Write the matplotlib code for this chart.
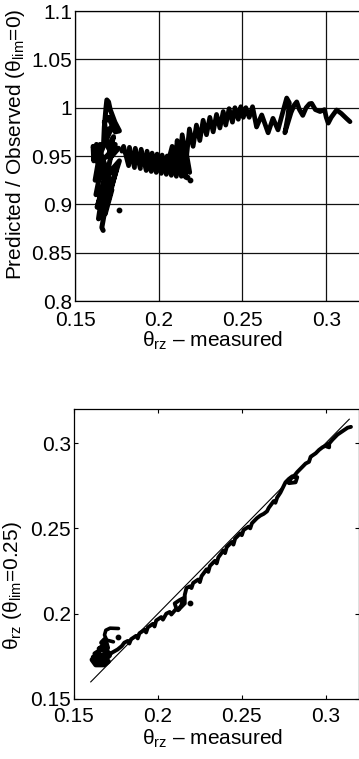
import numpy as np
import matplotlib
matplotlib.use("Agg")
import matplotlib.pyplot as plt

# ---- top panel: predicted / observed ratio vs measured theta_rz (traced) ----
left_x = [0.1668, 0.1660, 0.1690, 0.1640, 0.1675, 0.1632, 0.1700, 0.1680, 0.1720,
          0.1625, 0.1665, 0.1700, 0.1745, 0.1620, 0.1650, 0.1720, 0.1765, 0.1690,
          0.1720, 0.1640, 0.1608, 0.1612, 0.1628, 0.1638, 0.1650, 0.1645,
          0.1670, 0.1675, 0.1685, 0.1690, 0.1700, 0.1710, 0.1738, 0.1765, 0.1740,
          0.1700, 0.1675, 0.1690, 0.1720, 0.1680, 0.1700, 0.1730, 0.1700, 0.1740,
          0.1710, 0.1760]
left_y = [0.873, 0.876, 0.905, 0.885, 0.925, 0.897, 0.935, 0.890, 0.915,
          0.910, 0.945, 0.905, 0.935, 0.925, 0.955, 0.920, 0.945, 0.930,
          0.955, 0.942, 0.960, 0.945, 0.962, 0.946, 0.962, 0.950,
          0.960, 0.980, 1.000, 1.008, 1.006, 0.998, 0.985, 0.976, 0.975,
          0.990, 0.985, 0.968, 0.980, 0.975, 0.958, 0.970, 0.950, 0.962,
          0.948, 0.958]

mid_x = [0.1780, 0.1790, 0.1820, 0.1825, 0.1855, 0.1860, 0.1890, 0.1895, 0.1925, 0.1930,
         0.1955, 0.1960, 0.1985, 0.1990, 0.2015, 0.2020, 0.2045, 0.2050, 0.2075, 0.2080,
         0.2105, 0.2110, 0.2135, 0.2140, 0.2160, 0.2165, 0.2185]
mid_y = [0.955, 0.960, 0.940, 0.959, 0.938, 0.958, 0.937, 0.957, 0.935, 0.955,
         0.934, 0.953, 0.933, 0.952, 0.932, 0.951, 0.931, 0.950, 0.930, 0.950,
         0.929, 0.951, 0.929, 0.953, 0.928, 0.953, 0.933]

rise_x = [0.2050, 0.2080, 0.2095, 0.2110, 0.2125, 0.2140, 0.2165, 0.2183, 0.2205, 0.2225,
          0.2245, 0.2265, 0.2285, 0.2305, 0.2325, 0.2345, 0.2365, 0.2385, 0.2400, 0.2420,
          0.2440, 0.2455, 0.2475, 0.2490, 0.2505, 0.2520, 0.2540, 0.2560, 0.2584, 0.2615,
          0.2653, 0.2682, 0.2712, 0.2740, 0.2764, 0.2780, 0.2770, 0.2753, 0.2790, 0.2810,
          0.2824, 0.2840, 0.2860, 0.2880, 0.2900, 0.2913, 0.2935, 0.2963, 0.2990, 0.3000,
          0.3012, 0.3030, 0.3062, 0.3090, 0.3120, 0.3142]
rise_y = [0.940, 0.960, 0.938, 0.966, 0.942, 0.972, 0.948, 0.978, 0.960, 0.982,
          0.966, 0.987, 0.972, 0.990, 0.975, 0.993, 0.979, 0.996, 0.982, 0.999,
          0.985, 1.000, 0.988, 1.001, 0.990, 1.000, 0.990, 1.001, 0.980, 0.9925,
          0.974, 0.989, 0.977, 0.995, 1.010, 1.005, 0.990, 0.974, 0.995, 1.003,
          1.006, 0.998, 0.992, 1.000, 1.004, 1.0045, 0.998, 0.996, 0.998, 0.990,
          0.984, 0.990, 0.9976, 0.994, 0.989, 0.9855]

top_dots_x = [0.1765, 0.2167, 0.2187]
top_dots_y = [0.894, 0.9287, 0.9253]

# ---- bottom panel: theta_rz (theta_lim=0.25) vs measured (traced) ----
blob_x = [0.1608, 0.1630, 0.1680, 0.1705, 0.1640, 0.1615, 0.1690, 0.1712, 0.1645, 0.1625,
          0.1665, 0.1700, 0.1670, 0.1650, 0.1690, 0.1665, 0.1685, 0.1700, 0.1690, 0.1715]
blob_y = [0.1730, 0.1700, 0.1700, 0.1720, 0.1718, 0.1745, 0.1735, 0.1755, 0.1755, 0.1765,
          0.1790, 0.1772, 0.1805, 0.1795, 0.1810, 0.1830, 0.1850, 0.1800, 0.1780, 0.1765]

low_x = [0.1715, 0.1760,
         0.1785, 0.1800, 0.1820, 0.1830, 0.1840, 0.1870, 0.1880, 0.1890, 0.1920, 0.1930,
         0.1940, 0.1970, 0.1980, 0.1990, 0.2020, 0.2030, 0.2050, 0.2070, 0.2080, 0.2110,
         0.2100, 0.2130, 0.2150, 0.2140, 0.2120, 0.2160, 0.2160, 0.2170, 0.2190, 0.2200,
         0.2210, 0.2240, 0.2250, 0.2260, 0.2290, 0.2300, 0.2310, 0.2340, 0.2350, 0.2360,
         0.2390, 0.2400, 0.2410, 0.2440, 0.2450, 0.2460, 0.2490, 0.2500, 0.2510, 0.2540,
         0.2550, 0.2560, 0.2590, 0.2610, 0.2630, 0.2650, 0.2660, 0.2690, 0.2700, 0.2710,
         0.2730, 0.2745, 0.2760, 0.2780, 0.2800, 0.2830, 0.2820, 0.2780, 0.2790, 0.2810,
         0.2830, 0.2860, 0.2880, 0.2900, 0.2910, 0.2940, 0.2960, 0.2980, 0.3000, 0.3020,
         0.3020, 0.3005, 0.3040, 0.3070, 0.3100, 0.3130, 0.3150]
low_y = [0.1765, 0.1790,
         0.1810, 0.1830, 0.1840, 0.1825, 0.1850, 0.1870, 0.1855, 0.1885, 0.1905, 0.1890,
         0.1920, 0.1940, 0.1925, 0.1960, 0.1980, 0.1965, 0.2000, 0.2010, 0.1995, 0.2030,
         0.2060, 0.2080, 0.2090, 0.2050, 0.2020, 0.2060, 0.2110, 0.2150, 0.2160, 0.2150,
         0.2180, 0.2200, 0.2185, 0.2220, 0.2260, 0.2245, 0.2280, 0.2310, 0.2295, 0.2330,
         0.2370, 0.2355, 0.2390, 0.2420, 0.2405, 0.2440, 0.2470, 0.2460, 0.2490, 0.2510,
         0.2500, 0.2530, 0.2560, 0.2575, 0.2585, 0.2600, 0.2620, 0.2660, 0.2650, 0.2680,
         0.2710, 0.2740, 0.2770, 0.2790, 0.2805, 0.2800, 0.2770, 0.2765, 0.2790, 0.2805,
         0.2830, 0.2860, 0.2880, 0.2890, 0.2920, 0.2940, 0.2960, 0.2975, 0.2985, 0.2995,
         0.2975, 0.2980, 0.3020, 0.3050, 0.3070, 0.3090, 0.3095]

hook_x = [0.1735, 0.1695, 0.1682, 0.1690, 0.1715, 0.1765]
hook_y = [0.1835, 0.1845, 0.1875, 0.1903, 0.1915, 0.1913]

bottom_dots_x = [0.1765, 0.2193]
bottom_dots_y = [0.1866, 0.2061]

ident_x = [0.160, 0.314]
ident_y = [0.160, 0.314]

top_yticks = [0.8, 0.85, 0.9, 0.95, 1.0, 1.05, 1.1]
top_ylabels = ["0.8", "0.85", "0.9", "0.95", "1", "1.05", "1.1"]
xticks = [0.15, 0.2, 0.25, 0.3]
xlabels = ["0.15", "0.2", "0.25", "0.3"]
bot_yticks = [0.15, 0.2, 0.25, 0.3]
bot_ylabels = ["0.15", "0.2", "0.25", "0.3"]

plt.rcParams.update({
    "font.family": ["Liberation Sans", "DejaVu Sans"],
    "mathtext.fontset": "custom",
    "mathtext.rm": "Liberation Sans",
    "mathtext.it": "Liberation Sans:italic",
    "font.size": 15,
    "axes.linewidth": 0.9,
})

fig = plt.figure(figsize=(3.59, 7.59), dpi=100)
ax1 = fig.add_axes([0.209, 0.6034, 0.793, 0.3821])
ax2 = fig.add_axes([0.206, 0.0791, 0.795, 0.3821])

line_kw = dict(color="k", solid_capstyle="round", solid_joinstyle="round")

# top
ax1.plot(left_x, left_y, lw=3.6, **line_kw)
ax1.plot(mid_x, mid_y, lw=3.4, **line_kw)
ax1.plot(rise_x, rise_y, lw=3.4, **line_kw)
ax1.scatter(top_dots_x, top_dots_y, s=10, color="k", zorder=3)
ax1.set_xlim(0.15, 0.32)
ax1.set_ylim(0.8, 1.1)
ax1.set_xticks(xticks)
ax1.set_xticklabels(xlabels)
ax1.set_yticks(top_yticks)
ax1.set_yticklabels(top_ylabels)
ax1.grid(True, color="#111111", lw=0.9)
ax1.tick_params(direction="in", length=0, pad=2)
ax1.tick_params(axis="x", pad=7)
ax1.set_xlabel("θ$_{\\mathregular{rz}}$ – measured")
ax1.set_ylabel("Predicted / Observed (θ$_{\\mathregular{lim}}$=0)")
ax1.xaxis.set_label_coords(0.485, -0.1)
ax1.yaxis.set_label_coords(-0.17, 0.54)

# bottom
ax2.plot(ident_x, ident_y, color="k", lw=0.8)
ax2.plot(blob_x, blob_y, lw=3.6, **line_kw)
ax2.plot(low_x, low_y, lw=2.8, **line_kw)
ax2.plot(hook_x, hook_y, lw=2.6, **line_kw)
ax2.scatter(bottom_dots_x, bottom_dots_y, s=10, color="k", zorder=3)
ax2.set_xlim(0.15, 0.32)
ax2.set_ylim(0.15, 0.32)
ax2.set_xticks(xticks)
ax2.set_xticklabels(xlabels)
ax2.set_yticks(bot_yticks)
ax2.set_yticklabels(bot_ylabels)
ax2.tick_params(direction="in", length=3, width=0.8, top=True, right=True, pad=2)
ax2.tick_params(axis="x", pad=6)
ax2.set_xlabel("θ$_{\\mathregular{rz}}$ – measured")
ax2.set_ylabel("θ$_{\\mathregular{rz}}$ (θ$_{\\mathregular{lim}}$=0.25)")
ax2.xaxis.set_label_coords(0.485, -0.1)
ax2.yaxis.set_label_coords(-0.175, 0.39)

fig.savefig("out.png", dpi=100, facecolor="white")
